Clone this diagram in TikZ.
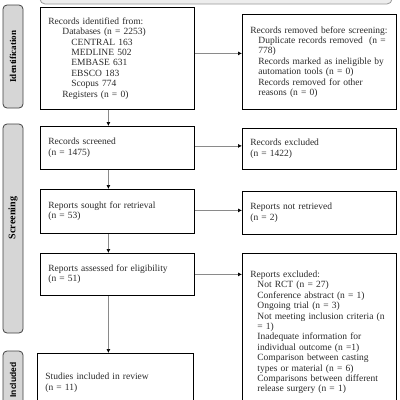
\documentclass[tikz,border=0pt]{standalone}
\usepackage{fontspec}
\setmainfont{Liberation Serif}
\newfontfamily\phsans{Liberation Sans}
\usetikzlibrary{arrows.meta}
\definecolor{phfill}{HTML}{D6D6D6}
\definecolor{bannerfill}{HTML}{EDEDED}
\definecolor{arrgray}{HTML}{8A8A8A}
\definecolor{txtgray}{HTML}{2A2A2A}
\tikzset{
  flowbox/.style={draw=black, line width=0.8pt, rectangle, anchor=north west,
    inner xsep=8pt, inner ysep=0pt, align=left, text=txtgray,
    font=\fontsize{9.5}{10.4}\selectfont},
  phase/.style={draw=black!75, fill=phfill, line width=0.8pt, rounded corners=4pt},
  phtext/.style={rotate=90, font=\bfseries\fontsize{9}{10}\selectfont},
  flowarrow/.style={draw=arrgray, line width=0.7pt, -{Latex[black,length=4pt,width=4pt]}}
}
\begin{document}
\begin{tikzpicture}[x=1pt, y=-1pt]
\useasboundingbox (0,0) rectangle (400,400);
\clip (0,0) rectangle (400,400);
% banner
\draw[draw=black!40, fill=bannerfill, line width=0.8pt, rounded corners=5pt] (40,-20) rectangle (392,4);
% phase labels
\draw[phase] (3,5) rectangle (23,108);
\draw[phase] (3,124) rectangle (23,333);
\draw[phase] (3,351) rectangle (23,440);
\node[phtext] (ph1) at (13,56.5) {Identification};
\node[phtext, font=\bfseries\fontsize{10}{11}\selectfont] (ph2) at (13,218) {Screening};
\node[phtext, font=\phsans\bfseries\fontsize{8.5}{10}\selectfont] (ph3) at (13,380) {Included};
% left boxes
\node[flowbox, minimum width=154pt, minimum height=102pt, text width=138pt] (b1) at (40,7)
 {Records identified from:\\
  \hspace*{14pt}Databases (n = 2253)\\
  \hspace*{23pt}CENTRAL 163\\
  \hspace*{23pt}MEDLINE 502\\
  \hspace*{23pt}EMBASE 631\\
  \hspace*{23pt}EBSCO 183\\
  \hspace*{23pt}Scopus 774\\
  \hspace*{14pt}Registers (n = 0)};
\node[flowbox, minimum width=154pt, minimum height=43pt, text width=138pt] (b2) at (40,126)
 {Records screened\\(n = 1475)};
\node[flowbox, minimum width=154pt, minimum height=44pt, text width=138pt] (b3) at (40,189)
 {Reports sought for retrieval\\(n = 53)};
\node[flowbox, minimum width=154pt, minimum height=42pt, text width=138pt] (b4) at (40,253)
 {Reports assessed for eligibility\\(n = 51)};
\node[flowbox, minimum width=156pt, minimum height=59pt, text width=140pt] (b5) at (37,353)
 {Studies included in review\\(n = 11)};
% right boxes
\node[flowbox, minimum width=154pt, minimum height=95pt, text width=138pt] (r1) at (242,14)
 {Records removed before screening:\\
  \hspace*{8pt}Duplicate records removed\ \ (n =\\
  \hspace*{8pt}778)\\
  \hspace*{8pt}Records marked as ineligible by\\
  \hspace*{8pt}automation tools (n = 0)\\
  \hspace*{8pt}Records removed for other\\
  \hspace*{8pt}reasons (n = 0)};
\node[flowbox, minimum width=154pt, minimum height=41pt, text width=138pt] (r2) at (242,128)
 {Records excluded\\(n = 1422)};
\node[flowbox, minimum width=154pt, minimum height=43pt, text width=138pt] (r3) at (242,191)
 {Reports not retrieved\\(n = 2)};
\node[flowbox, minimum width=154pt, minimum height=158pt, text width=138pt] (r4) at (242,253)
 {Reports excluded:\\
  \hspace*{7pt}Not RCT (n = 27)\\
  \hspace*{7pt}Conference abstract (n = 1)\\
  \hspace*{7pt}Ongoing trial (n = 3)\\
  \hspace*{7pt}Not meeting inclusion criteria (n\\
  \hspace*{7pt}= 1)\\
  \hspace*{7pt}Inadequate information for\\
  \hspace*{7pt}individual outcome (n =1)\\
  \hspace*{7pt}Comparison between casting\\
  \hspace*{7pt}types or material (n = 6)\\
  \hspace*{7pt}Comparisons between different\\
  \hspace*{7pt}release surgery (n = 1)};
% vertical arrows
\draw[flowarrow] ([xshift=-9pt]b1.south) -- ([xshift=-9pt]b1.south |- b2.north);
\draw[flowarrow] ([xshift=-9pt]b2.south) -- ([xshift=-9pt]b2.south |- b3.north);
\draw[flowarrow] ([xshift=-9pt]b3.south) -- ([xshift=-9pt]b3.south |- b4.north);
\draw[flowarrow] ([xshift=-9pt]b4.south) -- ([xshift=-9pt]b4.south |- b5.north);
% horizontal arrows
\draw[flowarrow] ([yshift=5pt]b1.east) -- ([yshift=5pt]b1.east -| r1.west);
\draw[flowarrow] ([yshift=2pt]b2.east) -- ([yshift=2pt]b2.east -| r2.west);
\draw[flowarrow] ([yshift=1pt]b3.east) -- ([yshift=1pt]b3.east -| r3.west);
\draw[flowarrow] (b4.east) -- (b4.east -| r4.west);
\end{tikzpicture}
\end{document}
